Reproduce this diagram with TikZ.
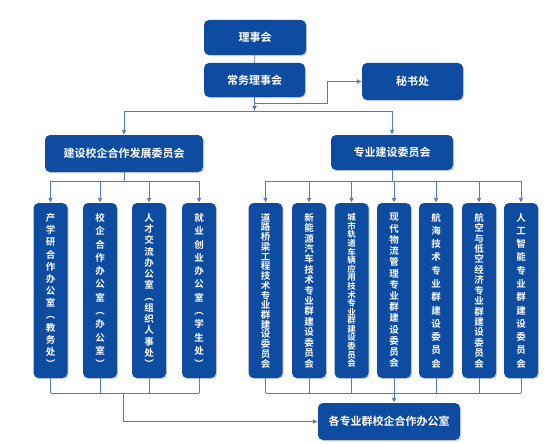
\documentclass[tikz,border=0pt]{standalone}
\usepackage{fontspec}
\setmainfont{Noto Sans CJK SC}[BoldFont={* Bold}]
\usetikzlibrary{arrows.meta,shadows}
\definecolor{boxblue}{RGB}{13,76,160}
\definecolor{lineblue}{RGB}{80,125,190}

% vertical stacking of characters, spread over the column height
\newcount\vcnt
\def\vcountloop#1{\ifx#1\relax\else\advance\vcnt by 1 \expandafter\vcountloop\fi}
\def\vputloop#1{\ifx#1\relax\else\hbox to 1em{\hss#1\hss}\expandafter\vputloop\fi}
\newcommand\vstack[1]{\vcnt=0 \vcountloop#1\relax\advance\vcnt by -1
  \vbox{\baselineskip=\dimexpr 146pt/\vcnt\relax\lineskiplimit=-50pt\lineskip=0pt\vputloop#1\relax}}

\tikzset{
  orgbox/.style={fill=boxblue, rounded corners=5pt, text=white, inner sep=0pt,
    font=\bfseries\fontsize{11}{13}\selectfont,
    drop shadow={shadow xshift=1.2pt, shadow yshift=-1.2pt, fill=black!35}},
  colbox/.style={orgbox, minimum width=34pt, minimum height=175pt,
    font=\bfseries\fontsize{9.5}{11}\selectfont},
  link/.style={draw=lineblue, line width=0.9pt},
  arr/.style={link, -{Latex[length=5pt,width=5pt]}}
}

\begin{document}
\begin{tikzpicture}[x=1pt,y=-1pt]
\useasboundingbox (0,0) rectangle (554,444);

% top levels
\node[orgbox, minimum width=102pt, minimum height=35pt] (lsh) at (255,37.5) {理事会};
\node[orgbox, minimum width=101pt, minimum height=34pt] (cwh) at (254.5,80) {常务理事会};
\node[orgbox, minimum width=101pt, minimum height=37pt] (msc) at (412.5,81.5) {秘书处};
\node[orgbox, minimum width=158pt, minimum height=37pt] (jsw) at (124,153.5) {建设校企合作发展委员会};
\node[orgbox, minimum width=122pt, minimum height=35pt] (zyw) at (392,152.5) {专业建设委员会};

% left columns
\node[colbox] (c1) at (50.5,290.5) {\vstack{产学研合作办公室︵教务处︶}};
\node[colbox] (c2) at (100,290.5) {\vstack{校企合作办公室︵办公室︶}};
\node[colbox] (c3) at (149,290.5) {\vstack{人才交流办公室︵组织人事处︶}};
\node[colbox] (c4) at (199,290.5) {\vstack{就业创业办公室︵学生处︶}};

% right columns
\node[colbox] (r1) at (265.5,290.5) {\vstack{道路桥梁工程技术专业群建设委员会}};
\node[colbox] (r2) at (309,290.5) {\vstack{新能源汽车技术专业群建设委员会}};
\node[colbox, font=\bfseries\fontsize{8.5}{10}\selectfont] (r3) at (351.5,290.5) {\vstack{城市轨道车辆应用技术专业群建设委员会}};
\node[colbox] (r4) at (394,290.5) {\vstack{现代物流管理专业群建设委员会}};
\node[colbox] (r5) at (436,290.5) {\vstack{航海技术专业群建设委员会}};
\node[colbox] (r6) at (479,290.5) {\vstack{航空与低空经济专业群建设委员会}};
\node[colbox] (r7) at (521,290.5) {\vstack{人工智能专业群建设委员会}};

\node[orgbox, minimum width=142pt, minimum height=37pt] (bgs) at (389,421.5) {各专业群校企合作办公室};

% bus points
\coordinate (topbus) at (254.5,111);
\coordinate (msturn) at (254.5,103);
\coordinate (midbus) at (0,181);
\coordinate (lowbus) at (0,393);
\coordinate (lleg) at (123,393);

% links
\draw[link] (lsh) -- (cwh);
\draw[arr] (cwh) -- (topbus);
\draw[arr] (msturn) -| (327,81.5) -- (msc.west);
\draw[link] (jsw.north |- topbus) -- (zyw.north |- topbus);
\draw[arr] (jsw.north |- topbus) -- (jsw.north);
\draw[arr] (zyw.north |- topbus) -- (zyw.north);

\draw[link] (jsw.south) -- (jsw.south |- midbus);
\draw[link] (c1.north |- midbus) -- (c4.north |- midbus);
\draw[link] (zyw.south) -- (zyw.south |- midbus);
\draw[link] (r1.north |- midbus) -- (r7.north |- midbus);
\foreach \n in {c1,c2,c3,c4,r1,r2,r3,r4,r5,r6,r7}{
  \draw[arr] (\n.north |- midbus) -- (\n.north);
  \draw[link] (\n.south) -- (\n.south |- lowbus);
}

\draw[link] (c1.south |- lowbus) -- (c4.south |- lowbus);
\draw[link] (r1.south |- lowbus) -- (r7.south |- lowbus);
\draw[arr] (lleg) |- (bgs.west);
\draw[arr] (r4.south |- lowbus) -- (r4.south |- bgs.north);
\end{tikzpicture}
\end{document}
